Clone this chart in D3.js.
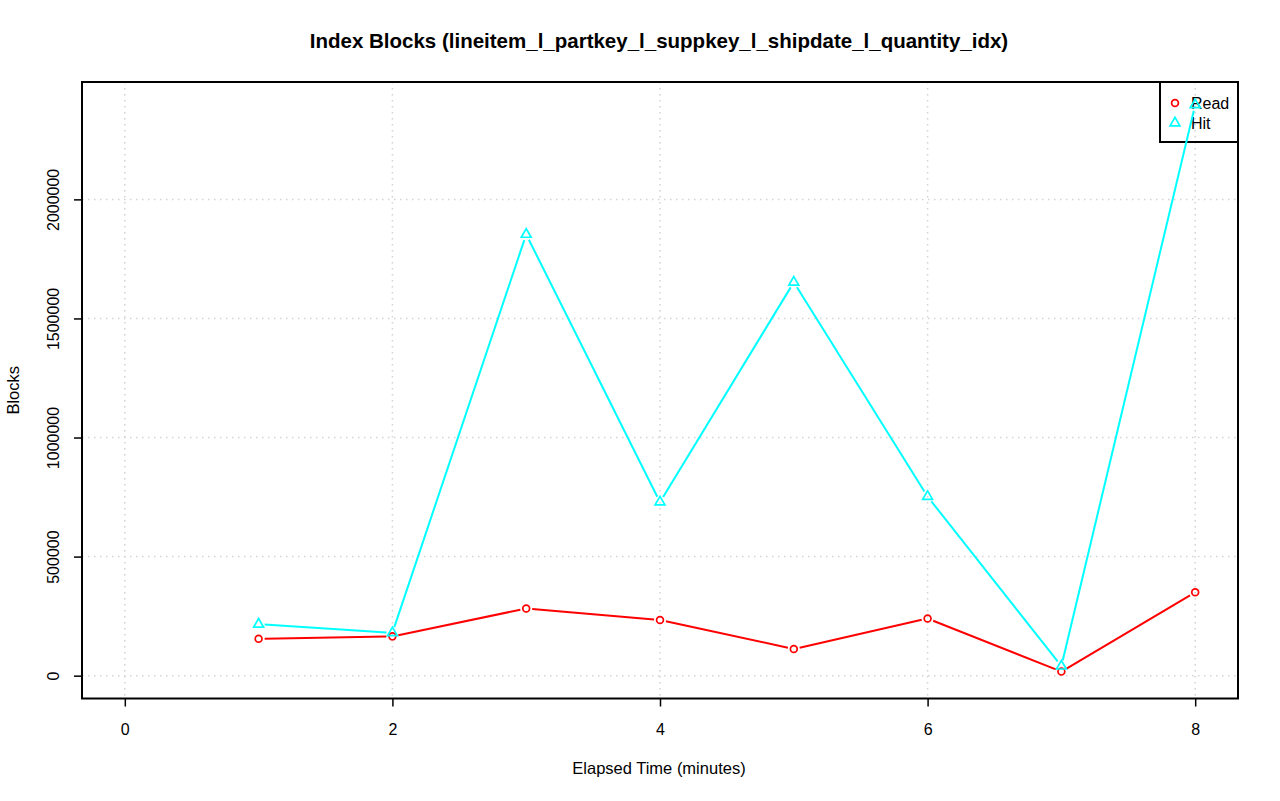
<!DOCTYPE html>
<html>
<head>
<meta charset="utf-8">
<script src="https://cdn.jsdelivr.net/npm/d3@7"></script>
<style>
  body { margin: 0; background: #fff; }
  svg { display: block; font-family: "Liberation Sans", Arial, sans-serif; }
</style>
</head>
<body>
<div class="canvas"></div>
<script>
const width = 1280, height = 801

// data
const minutes = [1, 2, 3, 4, 5, 6, 7, 8]
const readBlocks = [155000, 165000, 282000, 234000, 112000, 240000, 17000, 350000]
const hitBlocks = [216000, 180000, 1853000, 729000, 1652000, 752000, 40000, 2397000]
const xTicks = [0, 2, 4, 6, 8]
const yTicks = [0, 500000, 1000000, 1500000, 2000000]
const seriesNames = ['Read', 'Hit']
const seriesColors = ['#ff0000', '#00ffff']

const svg = d3.select('.canvas').append('svg').attr('width', width).attr('height', height)

// plot box like R's base graphics
let [ml, mr, mt, mb] = [82, 1238, 82, 698.5]

const yMax = d3.max(hitBlocks.concat(readBlocks))
const x = d3.scaleLinear().domain([-0.32, 8.32]).range([ml, mr])
const y = d3.scaleLinear().domain([-0.04 * yMax, 1.04 * yMax]).range([mb, mt])

// grid
const grid = svg.append('g')
grid.selectAll('.gx').data(xTicks).enter().append('line')
    .attr('x1', d => x(d)).attr('x2', d => x(d))
    .attr('y1', mt).attr('y2', mb)
grid.selectAll('.gy').data(yTicks).enter().append('line')
    .attr('x1', ml).attr('x2', mr)
    .attr('y1', d => y(d)).attr('y2', d => y(d))
grid.selectAll('line')
    .attr('stroke', '#d3d3d3')
    .attr('stroke-width', 1.5)
    .attr('stroke-dasharray', '1.5,4.5')

// axes
const xAxisG = svg.append('g').attr('transform', `translate(0, ${mb})`)
const yAxisG = svg.append('g').attr('transform', `translate(${ml}, 0)`)
xAxisG.call(d3.axisBottom(x).tickValues(xTicks).tickSize(8).tickFormat(d3.format('d')))
yAxisG.call(d3.axisLeft(y).tickValues(yTicks).tickSize(8).tickFormat(d3.format('d')))
svg.selectAll('.domain').remove()
svg.selectAll('.tick line').attr('stroke', '#000').attr('stroke-width', 1.5)
svg.selectAll('.tick text').attr('fill', '#000').style('font-size', '16px').style('font-family', '"Liberation Sans", Arial, sans-serif')
xAxisG.selectAll('.tick text').attr('y', 30.5).attr('dy', '0.35em')
yAxisG.selectAll('.tick text')
    .attr('text-anchor', 'middle')
    .attr('transform', 'translate(-28.5, 0) rotate(-90)')
    .attr('x', 0).attr('y', 0).attr('dy', '0.35em')

svg.append('rect')
    .attr('x', ml).attr('y', mt)
    .attr('width', mr - ml).attr('height', mb - mt)
    .attr('fill', 'none').attr('stroke', '#000').attr('stroke-width', 2)

// labels
svg.append('text').attr('x', 659).attr('y', 47.5).attr('text-anchor', 'middle')
    .style('font-size', '20.5px').style('font-weight', 'bold')
    .text('Index Blocks (lineitem_l_partkey_l_suppkey_l_shipdate_l_quantity_idx)')
svg.append('text').attr('x', 659).attr('y', 774).attr('text-anchor', 'middle')
    .style('font-size', '16.5px').text('Elapsed Time (minutes)')
svg.append('text').attr('transform', `translate(19, ${(mt + mb) / 2}) rotate(-90)`)
    .attr('text-anchor', 'middle').style('font-size', '16.5px').text('Blocks')

// legend (no fill, lines drawn over it)
const legend = svg.append('g')
legend.append('rect').attr('x', 1160).attr('y', mt).attr('width', mr - 1160).attr('height', 60)
    .attr('fill', 'none').attr('stroke', '#000').attr('stroke-width', 2)

const triangle = d3.symbol().type(d3.symbolTriangle).size(42)

seriesNames.forEach((name, i) => {
    const ly = 103 + i * 20
    if (i === 0) {
        legend.append('circle').attr('cx', 1175).attr('cy', ly).attr('r', 3.4)
            .attr('fill', 'none').attr('stroke', seriesColors[i]).attr('stroke-width', 1.7)
    } else {
        legend.append('path').attr('d', triangle).attr('transform', `translate(1175, ${ly})`)
            .attr('fill', 'none').attr('stroke', seriesColors[i]).attr('stroke-width', 1.7)
    }
    legend.append('text').attr('x', 1191).attr('y', ly).attr('dy', '0.35em')
        .style('font-size', '16px').text(name)
})

// series: R type="b" lines with gaps around points
const gap = 6
function drawSeries(values, color, shape) {
    const pts = minutes.map((m, i) => [x(m), y(values[i])])
    const g = svg.append('g')
    for (let i = 0; i < pts.length - 1; i++) {
        const [x1, y1] = pts[i], [x2, y2] = pts[i + 1]
        const len = Math.hypot(x2 - x1, y2 - y1)
        if (len <= 2 * gap) continue
        const ux = (x2 - x1) / len, uy = (y2 - y1) / len
        g.append('line')
            .attr('x1', x1 + ux * gap).attr('y1', y1 + uy * gap)
            .attr('x2', x2 - ux * gap).attr('y2', y2 - uy * gap)
            .attr('stroke', color).attr('stroke-width', 2)
    }
    if (shape === 'circle') {
        g.selectAll('circle').data(pts).enter().append('circle')
            .attr('cx', d => d[0]).attr('cy', d => d[1]).attr('r', 3.4)
            .attr('fill', 'none').attr('stroke', color).attr('stroke-width', 1.7)
    } else {
        g.selectAll('path').data(pts).enter().append('path')
            .attr('d', triangle).attr('transform', d => `translate(${d[0]}, ${d[1]})`)
            .attr('fill', 'none').attr('stroke', color).attr('stroke-width', 1.7)
    }
}

drawSeries(readBlocks, seriesColors[0], 'circle')
drawSeries(hitBlocks, seriesColors[1], 'triangle')
</script>
</body>
</html>
